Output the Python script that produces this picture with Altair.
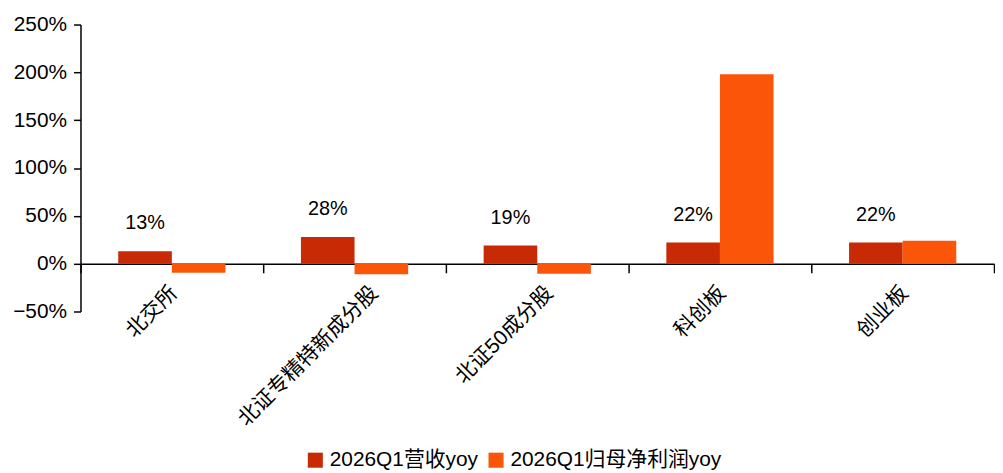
import altair as alt
import pandas as pd

categories = ["北交所", "北证专精特新成分股", "北证50成分股", "科创板", "创业板"]
series = ["2026Q1营收yoy", "2026Q1归母净利润yoy"]
revenue_yoy = [0.13, 0.28, 0.19, 0.22, 0.22]
profit_yoy = [-0.095, -0.11, -0.105, 1.98, 0.24]
colors = ["#C72A05", "#FA5509"]
y_ticks = [-0.5, 0.0, 0.5, 1.0, 1.5, 2.0, 2.5]

rows = []
for c, r, p in zip(categories, revenue_yoy, profit_yoy):
    rows.append({"cat": c, "series": series[0], "value": r})
    rows.append({"cat": c, "series": series[1], "value": p})
df = pd.DataFrame(rows)

FONT = "Liberation Sans, Arial, Noto Sans CJK SC"

x_enc = alt.X(
    "cat:N",
    sort=categories,
    scale=alt.Scale(paddingInner=0, paddingOuter=0),
    axis=alt.Axis(
        title=None,
        labelAngle=-45,
        labelAlign="right",
        labelBaseline="middle",
        labelFontSize=21,
        labelColor="#000000",
        labelFont=FONT,
        labelLimit=0,
        labelOffset={
            "condition": [
                {"test": "datum.value === '北证专精特新成分股'", "value": 20},
                {"test": "datum.value === '北证50成分股'", "value": 12},
            ],
            "value": 2,
        },
        labelPadding=17,
        tickBand="extent",
        tickSize=9,
        tickColor="#000000",
        tickWidth=1.5,
        domainColor="#000000",
        domainWidth=1.5,
        offset=-48,
        labelOverlap=False,
    ),
)
xo_enc = alt.XOffset(
    "series:N", scale=alt.Scale(domain=series, paddingInner=0, paddingOuter=0.704)
)
y_enc = alt.Y(
    "value:Q",
    scale=alt.Scale(domain=[-0.5, 2.5], nice=False),
    axis=alt.Axis(
        title=None,
        values=y_ticks,
        format=".0%",
        grid=False,
        labelFontSize=21,
        labelColor="#000000",
        labelFont=FONT,
        tickSize=7,
        tickColor="#000000",
        tickWidth=1.5,
        domainColor="#000000",
        domainWidth=1.5,
        labelPadding=7,
    ),
)

bars = alt.Chart(df).mark_bar().encode(
    x=x_enc,
    xOffset=xo_enc,
    y=y_enc,
    color=alt.Color(
        "series:N",
        scale=alt.Scale(domain=series, range=colors),
        legend=alt.Legend(
            title=None,
            orient="none",
            legendX=226,
            legendY=428,
            direction="horizontal",
            symbolType="square",
            symbolSize=230,
            symbolStrokeWidth=0,
            labelFontSize=21,
            labelFont=FONT,
            labelColor="#000000",
            labelOffset=4,
            labelLimit=0,
            columnPadding=7,
        ),
    ),
)

labels = alt.Chart(df[df["series"] == series[0]]).mark_text(
    fontSize=20, font=FONT, color="#000000", baseline="bottom", dy=-18
).encode(
    x=alt.X("cat:N", sort=categories),
    xOffset=xo_enc,
    y="value:Q",
    text=alt.Text("value:Q", format=".0%"),
)

chart = (
    alt.layer(bars, labels)
    .properties(
        width=920,
        height=289,
        padding={"left": 4, "top": 4, "right": 0, "bottom": 0},
        background="#FFFFFF",
    )
    .configure_view(stroke=None)
)

chart.save("out.html", embed_options={"renderer": "svg", "actions": False})
